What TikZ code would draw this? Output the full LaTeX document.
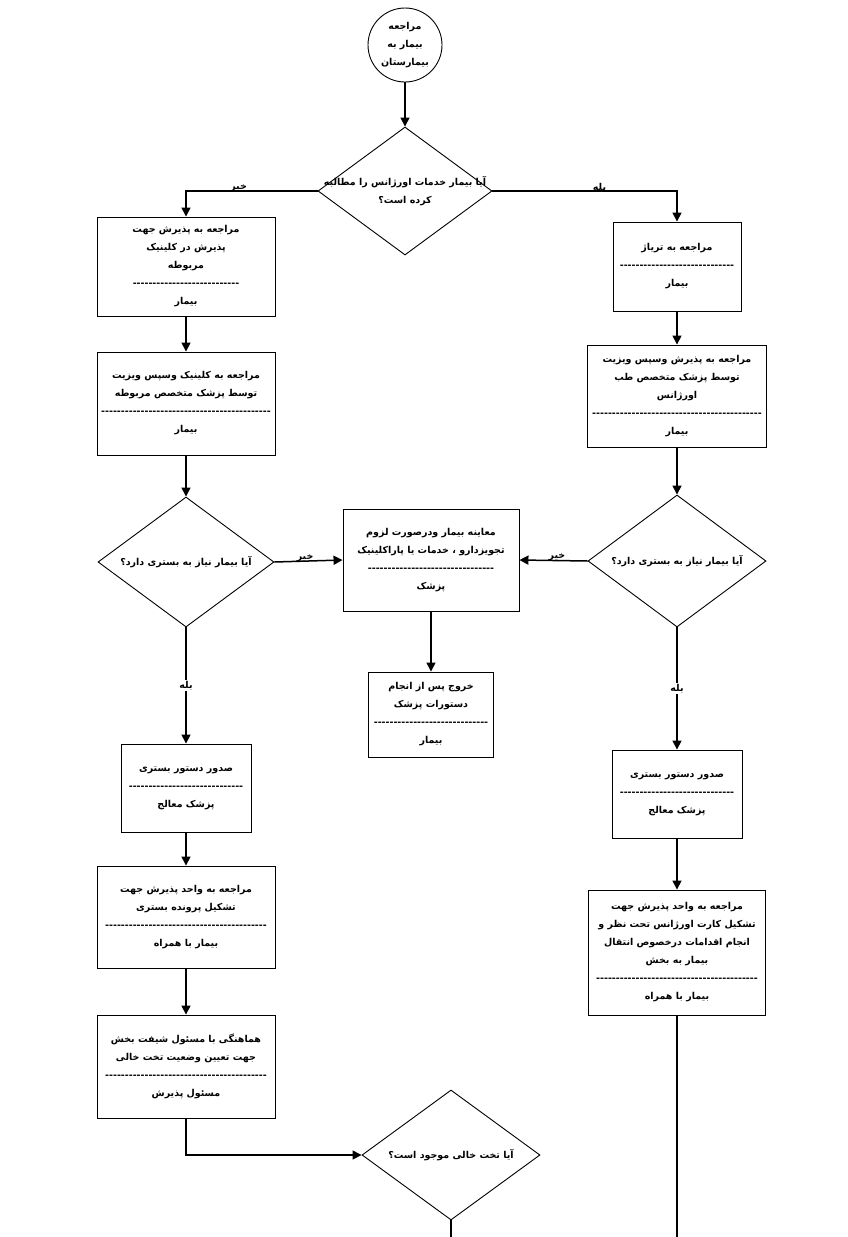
\documentclass[tikz,border=0pt]{standalone}
\usepackage{fontspec}
\newfontfamily\arabicfont[Script=Arabic]{DejaVu Sans}
\TeXXeTstate=1
\usetikzlibrary{shapes.geometric}
\usetikzlibrary{arrows.meta}
\newcommand\fa[1]{\beginR #1\endR}
\newcommand\sepline[1]{\hbox to #1pt{\cleaders\hbox{-}\hfill}}
\tikzset{
	start/.style={circle, draw, line width=0.9pt, minimum size=74pt, inner sep=0pt, align=center},
	decision/.style={diamond, draw, line width=0.9pt, inner sep=0pt},
	action/.style={rectangle, draw, line width=0.9pt, align=center},
	arrow/.style={draw, -{Triangle[length=9pt,width=9pt]}, line width=1.5pt},
	link/.style={draw, line width=1.5pt},
	answer/.style={inner sep=0pt, yshift=3pt, font=\arabicfont\bfseries\fontsize{9.5}{12}\selectfont}
}
\begin{document}
\begin{tikzpicture}[x=1pt, y=-1pt, font=\arabicfont\bfseries\fontsize{9.5}{18}\selectfont]

\useasboundingbox (0,0) rectangle (847,1237);

\node[start] (start) at (405,45)
	{\fa{مراجعه}\\\fa{بیمار به}\\\fa{بیمارستان}};

\node[decision, minimum width=174pt, minimum height=128pt,
	label={[align=center]center:{\beginR آیا بیمار خدمات اورژانس را مطالبه\endR\\\beginR کرده است؟\endR}}]
	(emergency) at (405,191) {};

% left column
\node[action, minimum width=178pt, minimum height=99pt] (clinicadm) at (186,266.5)
	{\fa{مراجعه به پذیرش جهت}\\\fa{پذیرش در کلینیک}\\\fa{مربوطه}\\\sepline{108}\\\fa{بیمار}};

\node[action, minimum width=178pt, minimum height=103pt] (clinicvisit) at (186,403.5)
	{\fa{مراجعه به کلینیک وسپس ویزیت}\\\fa{توسط پزشک متخصص مربوطه}\\\sepline{170}\\\fa{بیمار}};

\node[decision, minimum width=176pt, minimum height=130pt,
	label={center:\beginR آیا بیمار نیاز به بستری دارد؟\endR}]
	(needbedL) at (186,562) {};

\node[action, minimum width=130pt, minimum height=88pt] (orderL) at (186,788)
	{\fa{صدور دستور بستری}\\\sepline{118}\\\fa{پزشک معالج}};

\node[action, minimum width=178pt, minimum height=102pt] (fileL) at (186,917)
	{\fa{مراجعه به واحد پذیرش جهت}\\\fa{تشکیل پرونده بستری}\\\sepline{165}\\\fa{بیمار با همراه}};

\node[action, minimum width=178pt, minimum height=103pt] (shiftL) at (186,1066.5)
	{\fa{هماهنگی با مسئول شیفت بخش}\\\fa{جهت تعیین وضعیت تخت خالی}\\\sepline{165}\\\fa{مسئول پذیرش}};

\node[decision, minimum width=178pt, minimum height=130pt,
	label={center:\beginR آیا تخت خالی موجود است؟\endR}]
	(freebed) at (451,1155) {};

% middle column
\node[action, minimum width=176pt, minimum height=102pt] (exam) at (431,560)
	{\fa{معاینه بیمار ودرصورت لزوم}\\\fa{تجویزدارو ، خدمات یا پاراکلینیک}\\\sepline{127}\\\fa{پزشک}};

\node[action, minimum width=125pt, minimum height=85pt] (discharge) at (431,714.5)
	{\fa{خروج پس از انجام}\\\fa{دستورات پزشک}\\\sepline{118}\\\fa{بیمار}};

% right column
\node[action, minimum width=128pt, minimum height=89pt] (triage) at (677,266.5)
	{\fa{مراجعه به تریاژ}\\\sepline{117}\\\fa{بیمار}};

\node[action, minimum width=178pt, minimum height=102pt] (ervisit) at (677,396)
	{\fa{مراجعه به پذیرش وسپس ویزیت}\\\fa{توسط پزشک متخصص طب}\\\fa{اورژانس}\\\sepline{173}\\\fa{بیمار}};

\node[decision, minimum width=178pt, minimum height=132pt,
	label={center:\beginR آیا بیمار نیاز به بستری دارد؟\endR}]
	(needbedR) at (677,561) {};

\node[action, minimum width=130pt, minimum height=88pt] (orderR) at (677,794)
	{\fa{صدور دستور بستری}\\\sepline{118}\\\fa{پزشک معالج}};

\node[action, minimum width=177pt, minimum height=125pt] (cardR) at (677,952.5)
	{\fa{مراجعه به واحد پذیرش جهت}\\\fa{تشکیل کارت اورژانس تحت نظر و}\\\fa{انجام اقدامات درخصوص انتقال}\\\fa{بیمار به بخش}\\\sepline{165}\\\fa{بیمار با همراه}};

\coordinate (endL) at (451,1237);
\coordinate (endR) at (677,1237);

\draw [arrow] (start) -- (emergency);
\draw [arrow] (emergency.west) -| node[answer, pos=0.3] {\fa{خیر}} (clinicadm.north);
\draw [arrow] (emergency.east) -| node[answer, pos=0.29] {\fa{بله}} (triage.north);
\draw [arrow] (clinicadm) -- (clinicvisit);
\draw [arrow] (clinicvisit) -- (needbedL);
\draw [arrow] (needbedL.east) -- node[answer, pos=0.45] {\fa{خیر}} (exam.west);
\draw [arrow] (needbedR.west) -- node[answer, pos=0.45] {\fa{خیر}} (exam.east);
\draw [arrow] (needbedL.south) -- node[answer, pos=0.5, yshift=-3pt, fill=white, inner sep=1pt] {\fa{بله}} (orderL.north);
\draw [arrow] (orderL) -- (fileL);
\draw [arrow] (fileL) -- (shiftL);
\draw [arrow] (shiftL.south) |- (freebed.west);
\draw [arrow] (exam) -- (discharge);
\draw [arrow] (triage) -- (ervisit);
\draw [arrow] (ervisit) -- (needbedR);
\draw [arrow] (needbedR.south) -- node[answer, pos=0.5, yshift=-3pt, fill=white, inner sep=1pt] {\fa{بله}} (orderR.north);
\draw [arrow] (orderR) -- (cardR);
\draw [link] (freebed.south) -- (endL);
\draw [link] (cardR.south) -- (endR);

\end{tikzpicture}
\end{document}
